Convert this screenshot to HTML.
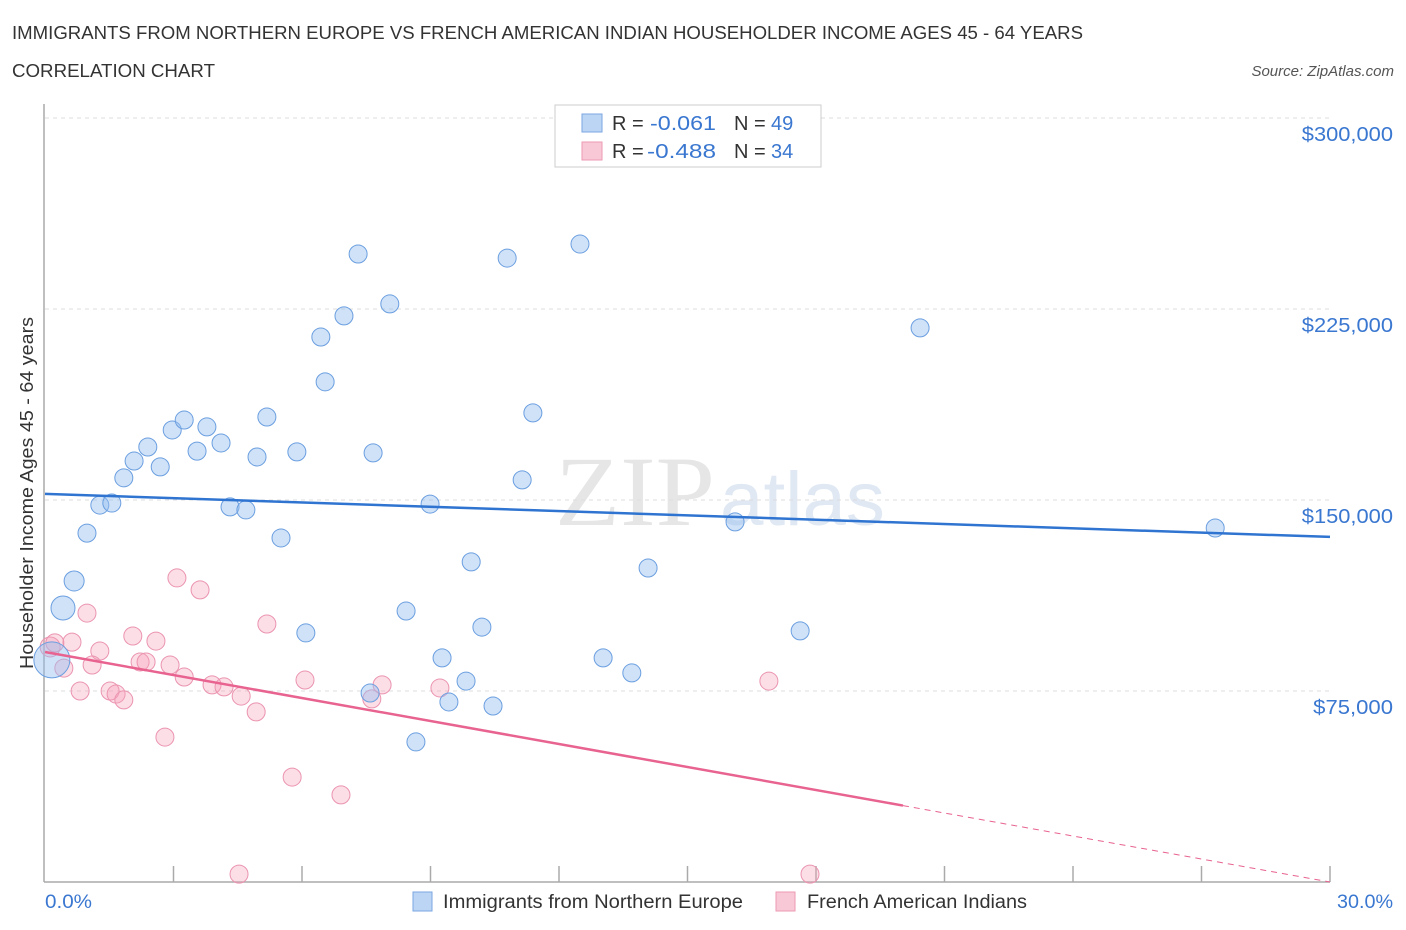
<!DOCTYPE html>
<html><head><meta charset="utf-8">
<style>
body{margin:0;background:#fff;font-family:"Liberation Sans",sans-serif;}
svg{display:block}
</style></head>
<body>
<svg id="c" width="1406" height="930">
<text x="12" y="39" font-size="18" fill="#333" textLength="1071" lengthAdjust="spacingAndGlyphs">IMMIGRANTS FROM NORTHERN EUROPE VS FRENCH AMERICAN INDIAN HOUSEHOLDER INCOME AGES 45 - 64 YEARS</text>
<text x="12" y="77" font-size="18" fill="#333" textLength="203" lengthAdjust="spacingAndGlyphs">CORRELATION CHART</text>
<text x="1394" y="76" font-size="15" fill="#555" font-style="italic" text-anchor="end">Source: ZipAtlas.com</text>
<text x="555" y="525" font-size="100" fill="#e6e6e6" textLength="160" lengthAdjust="spacingAndGlyphs" font-family="Liberation Serif">ZIP</text>
<text x="720" y="525" font-size="76" fill="#dfe8f3" textLength="165" lengthAdjust="spacingAndGlyphs">atlas</text>
<g id="grid"></g>
<line x1="44" y1="104" x2="44" y2="882" stroke="#aaa" stroke-width="1.5"/>
<line x1="44" y1="882" x2="1330" y2="882" stroke="#aaa" stroke-width="1.5"/>
<g id="ticks"></g>
<g id="pts"></g>
<g id="lines"></g>
<text transform="translate(33,493) rotate(-90)" font-size="18" fill="#333" text-anchor="middle" textLength="352" lengthAdjust="spacingAndGlyphs">Householder Income Ages 45 - 64 years</text>
<text x="45" y="908" font-size="19" fill="#3a77d0" textLength="47" lengthAdjust="spacingAndGlyphs">0.0%</text>
<text x="1337" y="908" font-size="19" fill="#3a77d0" textLength="56" lengthAdjust="spacingAndGlyphs">30.0%</text>
<g>
<rect x="555" y="105" width="266" height="62" fill="#fff" stroke="#ccc"/>
<rect x="582" y="114" width="20" height="18" fill="#bcd5f5" stroke="#7aa6e0"/>
<text x="612" y="130" font-size="20" fill="#333">R =</text>
<text x="650" y="130" font-size="20" fill="#3a77d0" textLength="66" lengthAdjust="spacingAndGlyphs">-0.061</text>
<text x="734" y="130" font-size="20" fill="#333">N =</text>
<text x="771" y="130" font-size="20" fill="#3a77d0">49</text>
<rect x="582" y="142" width="20" height="18" fill="#f9c8d6" stroke="#eb9ab2"/>
<text x="612" y="158" font-size="20" fill="#333">R =</text>
<text x="647" y="158" font-size="20" fill="#3a77d0" textLength="69" lengthAdjust="spacingAndGlyphs">-0.488</text>
<text x="734" y="158" font-size="20" fill="#333">N =</text>
<text x="771" y="158" font-size="20" fill="#3a77d0">34</text>
</g>
<g>
<rect x="413" y="892" width="19" height="19" fill="#bcd5f5" stroke="#7aa6e0"/>
<text x="443" y="908" font-size="19" fill="#333" textLength="300" lengthAdjust="spacingAndGlyphs">Immigrants from Northern Europe</text>
<rect x="776" y="892" width="19" height="19" fill="#f9c8d6" stroke="#eb9ab2"/>
<text x="807" y="908" font-size="19" fill="#333" textLength="220" lengthAdjust="spacingAndGlyphs">French American Indians</text>
</g>
</svg>
<script>
const yTicks=[75000,150000,225000,300000];
const yTickLabels=["$75,000","$150,000","$225,000","$300,000"];
const blueX=[0.16,0.42,0.68,0.98,1.28,1.56,1.84,2.08,2.40,2.69,2.97,3.25,3.55,3.78,4.11,4.32,4.69,4.95,5.18,5.51,5.88,6.09,6.44,6.54,6.98,7.31,7.66,7.59,8.05,8.43,8.66,8.99,9.27,9.43,9.83,9.95,10.20,10.46,10.79,11.14,11.39,12.49,13.03,13.70,14.08,16.11,17.63,20.43,27.32];
const blueY=[87.2,107.6,118.2,137.0,148.0,148.8,158.7,165.3,170.8,163.0,177.5,181.4,169.2,178.7,172.4,147.3,146.1,166.9,182.6,135.1,168.9,97.8,214.0,196.4,222.3,246.6,168.5,74.2,227.0,106.4,55.0,148.4,88.0,70.7,78.9,125.7,100.1,69.1,245.0,157.9,184.2,250.5,88.0,82.1,123.3,141.4,98.6,217.6,139.0];
const blueSize=[18,12,10];
const pinkX=[0.12,0.23,0.63,0.44,0.82,0.98,1.28,1.10,1.52,1.66,1.84,2.05,2.22,2.36,2.59,2.80,2.92,3.08,3.25,3.62,3.90,4.18,4.58,4.93,5.18,5.77,4.53,6.07,6.91,7.63,7.87,9.22,16.90,17.86];
const pinkY=[92.3,93.9,94.2,84.0,75.0,105.6,90.7,85.2,75.0,73.8,71.5,96.6,86.4,86.4,94.6,56.9,85.2,119.4,80.5,114.7,77.4,76.6,73.0,66.8,101.3,41.2,3.1,79.3,34.2,71.9,77.4,76.2,78.9,3.1];
const blueTrend=[152.4,135.5];
const pinkTrend=[90.3,0];
const pinkSolidEnd=20.03;
const NS="http://www.w3.org/2000/svg";
const X=p=>45+p*1285/30;
const Y=k=>882-k*1000*764/300000;
function mk(t,a,parent){const e=document.createElementNS(NS,t);for(const k in a)e.setAttribute(k,a[k]);document.getElementById(parent).appendChild(e);return e;}
yTicks.forEach((v,i)=>{
 const l=mk('line',{x1:45,x2:1330,y1:Y(v/1000),y2:Y(v/1000),stroke:'#ddd','stroke-dasharray':'4,4'},'grid');
 
 
 const t=mk('text',{x:1393,y:Y(v/1000)+23,'font-size':20,fill:'#3a77d0','text-anchor':'end',textLength:yTickLabels[i].length*11.4,lengthAdjust:'spacingAndGlyphs'},'grid');
 t.textContent=yTickLabels[i];
 
 
});
for(let i=1;i<=10;i++){
 const l=mk('line',{x1:X(i*3),x2:X(i*3),y1:866,y2:882,stroke:'#aaa','stroke-width':1.5},'ticks');
 
 
}
pinkX.forEach((x,i)=>{
 const c=mk('circle',{cx:X(x),cy:Y(pinkY[i]),r:i===0?10:9,fill:'rgba(245,160,185,0.35)',stroke:'#eb94b0','stroke-width':1},'pts');
 
 
});
blueX.forEach((x,i)=>{
 const c=mk('circle',{cx:X(x),cy:Y(blueY[i]),r:blueSize[i]||9,fill:'rgba(150,190,240,0.45)',stroke:'#6b9fe0','stroke-width':1},'pts');
 
 
});
const bl=mk('line',{x1:X(0),y1:Y(blueTrend[0]),x2:X(30),y2:Y(blueTrend[1]),stroke:'#2f74d0','stroke-width':2.5},'lines');


const py=p=>pinkTrend[0]+(pinkTrend[1]-pinkTrend[0])*p/30;
const pl=mk('line',{x1:X(0),y1:Y(py(0)),x2:X(pinkSolidEnd),y2:Y(py(pinkSolidEnd)),stroke:'#e8638f','stroke-width':2.5},'lines');


const pd=mk('line',{x1:X(pinkSolidEnd),y1:Y(py(pinkSolidEnd)),x2:X(30),y2:Y(py(30)),stroke:'#e8638f','stroke-width':1,'stroke-dasharray':'6,5'},'lines');


</script>
</body></html>
